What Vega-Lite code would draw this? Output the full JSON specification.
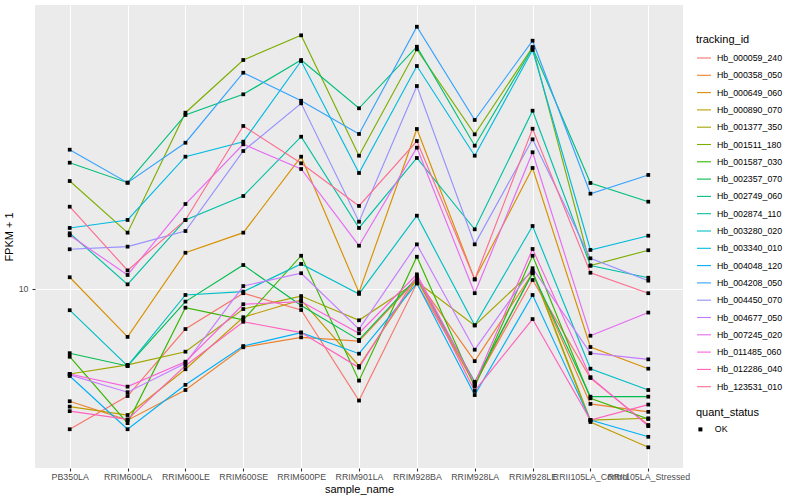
{
  "$schema": "https://vega.github.io/schema/vega-lite/v6.json",
  "width": 648,
  "height": 463,
  "padding": {"left": 3, "top": 5, "right": 5, "bottom": 5},
  "background": "white",
  "config": {
    "view": {"fill": "#EBEBEB", "stroke": null},
    "font": "Liberation Sans",
    "axis": {
      "domain": false, "grid": true, "gridColor": "#FFFFFF", "gridWidth": 1.1,
      "tickColor": "#333333", "tickSize": 3, "tickWidth": 1.1,
      "labelColor": "#4D4D4D", "labelFontSize": 8.8, "labelFont": "Liberation Sans",
      "titleFontSize": 11, "titleFontWeight": "normal", "titleColor": "#000000", "titleFont": "Liberation Sans",
      "labelPadding": 2, "titlePadding": 3
    },
    "legend": {
      "padding": 0, "titleFontSize": 11, "titleFontWeight": "normal", "titleColor": "#000000",
      "labelFontSize": 8.8, "labelColor": "#000000", "titleFont": "Liberation Sans", "labelFont": "Liberation Sans"
    }
  },
  "data": {"values": [
    {"tracking_id":"Hb_000059_240","sample_name":"PB350LA","fpkm":4.46,"quant_status":"OK"},
    {"tracking_id":"Hb_000059_240","sample_name":"RRIM600LA","fpkm":5.40,"quant_status":"OK"},
    {"tracking_id":"Hb_000059_240","sample_name":"RRIM600LE","fpkm":7.94,"quant_status":"OK"},
    {"tracking_id":"Hb_000059_240","sample_name":"RRIM600SE","fpkm":9.76,"quant_status":"OK"},
    {"tracking_id":"Hb_000059_240","sample_name":"RRIM600PE","fpkm":8.86,"quant_status":"OK"},
    {"tracking_id":"Hb_000059_240","sample_name":"RRIM901LA","fpkm":5.26,"quant_status":"OK"},
    {"tracking_id":"Hb_000059_240","sample_name":"RRIM928BA","fpkm":10.33,"quant_status":"OK"},
    {"tracking_id":"Hb_000059_240","sample_name":"RRIM928LA","fpkm":5.79,"quant_status":"OK"},
    {"tracking_id":"Hb_000059_240","sample_name":"RRIM928LE","fpkm":10.53,"quant_status":"OK"},
    {"tracking_id":"Hb_000059_240","sample_name":"RRII105LA_Control","fpkm":5.99,"quant_status":"OK"},
    {"tracking_id":"Hb_000059_240","sample_name":"RRII105LA_Stressed","fpkm":4.57,"quant_status":"OK"},

    {"tracking_id":"Hb_000358_050","sample_name":"PB350LA","fpkm":5.24,"quant_status":"OK"},
    {"tracking_id":"Hb_000358_050","sample_name":"RRIM600LA","fpkm":4.70,"quant_status":"OK"},
    {"tracking_id":"Hb_000358_050","sample_name":"RRIM600LE","fpkm":5.59,"quant_status":"OK"},
    {"tracking_id":"Hb_000358_050","sample_name":"RRIM600SE","fpkm":7.15,"quant_status":"OK"},
    {"tracking_id":"Hb_000358_050","sample_name":"RRIM600PE","fpkm":7.57,"quant_status":"OK"},
    {"tracking_id":"Hb_000358_050","sample_name":"RRIM901LA","fpkm":7.41,"quant_status":"OK"},
    {"tracking_id":"Hb_000358_050","sample_name":"RRIM928BA","fpkm":10.57,"quant_status":"OK"},
    {"tracking_id":"Hb_000358_050","sample_name":"RRIM928LA","fpkm":6.60,"quant_status":"OK"},
    {"tracking_id":"Hb_000358_050","sample_name":"RRIM928LE","fpkm":10.95,"quant_status":"OK"},
    {"tracking_id":"Hb_000358_050","sample_name":"RRII105LA_Control","fpkm":5.16,"quant_status":"OK"},
    {"tracking_id":"Hb_000358_050","sample_name":"RRII105LA_Stressed","fpkm":4.93,"quant_status":"OK"},

    {"tracking_id":"Hb_000649_060","sample_name":"PB350LA","fpkm":10.70,"quant_status":"OK"},
    {"tracking_id":"Hb_000649_060","sample_name":"RRIM600LA","fpkm":7.59,"quant_status":"OK"},
    {"tracking_id":"Hb_000649_060","sample_name":"RRIM600LE","fpkm":12.32,"quant_status":"OK"},
    {"tracking_id":"Hb_000649_060","sample_name":"RRIM600SE","fpkm":13.83,"quant_status":"OK"},
    {"tracking_id":"Hb_000649_060","sample_name":"RRIM600PE","fpkm":21.42,"quant_status":"OK"},
    {"tracking_id":"Hb_000649_060","sample_name":"RRIM901LA","fpkm":9.80,"quant_status":"OK"},
    {"tracking_id":"Hb_000649_060","sample_name":"RRIM928BA","fpkm":25.12,"quant_status":"OK"},
    {"tracking_id":"Hb_000649_060","sample_name":"RRIM928LA","fpkm":10.57,"quant_status":"OK"},
    {"tracking_id":"Hb_000649_060","sample_name":"RRIM928LE","fpkm":20.07,"quant_status":"OK"},
    {"tracking_id":"Hb_000649_060","sample_name":"RRII105LA_Control","fpkm":7.16,"quant_status":"OK"},
    {"tracking_id":"Hb_000649_060","sample_name":"RRII105LA_Stressed","fpkm":6.32,"quant_status":"OK"},

    {"tracking_id":"Hb_000890_070","sample_name":"PB350LA","fpkm":5.08,"quant_status":"OK"},
    {"tracking_id":"Hb_000890_070","sample_name":"RRIM600LA","fpkm":4.84,"quant_status":"OK"},
    {"tracking_id":"Hb_000890_070","sample_name":"RRIM600LE","fpkm":6.30,"quant_status":"OK"},
    {"tracking_id":"Hb_000890_070","sample_name":"RRIM600SE","fpkm":8.50,"quant_status":"OK"},
    {"tracking_id":"Hb_000890_070","sample_name":"RRIM600PE","fpkm":9.39,"quant_status":"OK"},
    {"tracking_id":"Hb_000890_070","sample_name":"RRIM901LA","fpkm":6.42,"quant_status":"OK"},
    {"tracking_id":"Hb_000890_070","sample_name":"RRIM928BA","fpkm":10.57,"quant_status":"OK"},
    {"tracking_id":"Hb_000890_070","sample_name":"RRIM928LA","fpkm":5.75,"quant_status":"OK"},
    {"tracking_id":"Hb_000890_070","sample_name":"RRIM928LE","fpkm":11.03,"quant_status":"OK"},
    {"tracking_id":"Hb_000890_070","sample_name":"RRII105LA_Control","fpkm":4.65,"quant_status":"OK"},
    {"tracking_id":"Hb_000890_070","sample_name":"RRII105LA_Stressed","fpkm":4.02,"quant_status":"OK"},

    {"tracking_id":"Hb_001377_350","sample_name":"PB350LA","fpkm":6.13,"quant_status":"OK"},
    {"tracking_id":"Hb_001377_350","sample_name":"RRIM600LA","fpkm":6.46,"quant_status":"OK"},
    {"tracking_id":"Hb_001377_350","sample_name":"RRIM600LE","fpkm":6.97,"quant_status":"OK"},
    {"tracking_id":"Hb_001377_350","sample_name":"RRIM600SE","fpkm":8.91,"quant_status":"OK"},
    {"tracking_id":"Hb_001377_350","sample_name":"RRIM600PE","fpkm":9.60,"quant_status":"OK"},
    {"tracking_id":"Hb_001377_350","sample_name":"RRIM901LA","fpkm":8.35,"quant_status":"OK"},
    {"tracking_id":"Hb_001377_350","sample_name":"RRIM928BA","fpkm":10.43,"quant_status":"OK"},
    {"tracking_id":"Hb_001377_350","sample_name":"RRIM928LA","fpkm":8.11,"quant_status":"OK"},
    {"tracking_id":"Hb_001377_350","sample_name":"RRIM928LE","fpkm":11.09,"quant_status":"OK"},
    {"tracking_id":"Hb_001377_350","sample_name":"RRII105LA_Control","fpkm":4.70,"quant_status":"OK"},
    {"tracking_id":"Hb_001377_350","sample_name":"RRII105LA_Stressed","fpkm":4.75,"quant_status":"OK"},

    {"tracking_id":"Hb_001511_180","sample_name":"PB350LA","fpkm":18.62,"quant_status":"OK"},
    {"tracking_id":"Hb_001511_180","sample_name":"RRIM600LA","fpkm":13.83,"quant_status":"OK"},
    {"tracking_id":"Hb_001511_180","sample_name":"RRIM600LE","fpkm":27.59,"quant_status":"OK"},
    {"tracking_id":"Hb_001511_180","sample_name":"RRIM600SE","fpkm":37.37,"quant_status":"OK"},
    {"tracking_id":"Hb_001511_180","sample_name":"RRIM600PE","fpkm":43.08,"quant_status":"OK"},
    {"tracking_id":"Hb_001511_180","sample_name":"RRIM901LA","fpkm":21.54,"quant_status":"OK"},
    {"tracking_id":"Hb_001511_180","sample_name":"RRIM928BA","fpkm":39.74,"quant_status":"OK"},
    {"tracking_id":"Hb_001511_180","sample_name":"RRIM928LA","fpkm":24.36,"quant_status":"OK"},
    {"tracking_id":"Hb_001511_180","sample_name":"RRIM928LE","fpkm":40.27,"quant_status":"OK"},
    {"tracking_id":"Hb_001511_180","sample_name":"RRII105LA_Control","fpkm":11.44,"quant_status":"OK"},
    {"tracking_id":"Hb_001511_180","sample_name":"RRII105LA_Stressed","fpkm":12.50,"quant_status":"OK"},

    {"tracking_id":"Hb_001587_030","sample_name":"PB350LA","fpkm":6.77,"quant_status":"OK"},
    {"tracking_id":"Hb_001587_030","sample_name":"RRIM600LA","fpkm":4.62,"quant_status":"OK"},
    {"tracking_id":"Hb_001587_030","sample_name":"RRIM600LE","fpkm":8.98,"quant_status":"OK"},
    {"tracking_id":"Hb_001587_030","sample_name":"RRIM600SE","fpkm":8.37,"quant_status":"OK"},
    {"tracking_id":"Hb_001587_030","sample_name":"RRIM600PE","fpkm":12.11,"quant_status":"OK"},
    {"tracking_id":"Hb_001587_030","sample_name":"RRIM901LA","fpkm":5.90,"quant_status":"OK"},
    {"tracking_id":"Hb_001587_030","sample_name":"RRIM928BA","fpkm":12.04,"quant_status":"OK"},
    {"tracking_id":"Hb_001587_030","sample_name":"RRIM928LA","fpkm":5.70,"quant_status":"OK"},
    {"tracking_id":"Hb_001587_030","sample_name":"RRIM928LE","fpkm":12.11,"quant_status":"OK"},
    {"tracking_id":"Hb_001587_030","sample_name":"RRII105LA_Control","fpkm":5.33,"quant_status":"OK"},
    {"tracking_id":"Hb_001587_030","sample_name":"RRII105LA_Stressed","fpkm":4.73,"quant_status":"OK"},

    {"tracking_id":"Hb_002357_070","sample_name":"PB350LA","fpkm":6.91,"quant_status":"OK"},
    {"tracking_id":"Hb_002357_070","sample_name":"RRIM600LA","fpkm":6.42,"quant_status":"OK"},
    {"tracking_id":"Hb_002357_070","sample_name":"RRIM600LE","fpkm":9.30,"quant_status":"OK"},
    {"tracking_id":"Hb_002357_070","sample_name":"RRIM600SE","fpkm":11.48,"quant_status":"OK"},
    {"tracking_id":"Hb_002357_070","sample_name":"RRIM600PE","fpkm":9.09,"quant_status":"OK"},
    {"tracking_id":"Hb_002357_070","sample_name":"RRIM901LA","fpkm":7.46,"quant_status":"OK"},
    {"tracking_id":"Hb_002357_070","sample_name":"RRIM928BA","fpkm":10.67,"quant_status":"OK"},
    {"tracking_id":"Hb_002357_070","sample_name":"RRIM928LA","fpkm":5.86,"quant_status":"OK"},
    {"tracking_id":"Hb_002357_070","sample_name":"RRIM928LE","fpkm":10.95,"quant_status":"OK"},
    {"tracking_id":"Hb_002357_070","sample_name":"RRII105LA_Control","fpkm":5.38,"quant_status":"OK"},
    {"tracking_id":"Hb_002357_070","sample_name":"RRII105LA_Stressed","fpkm":5.38,"quant_status":"OK"},

    {"tracking_id":"Hb_002749_060","sample_name":"PB350LA","fpkm":20.69,"quant_status":"OK"},
    {"tracking_id":"Hb_002749_060","sample_name":"RRIM600LA","fpkm":18.44,"quant_status":"OK"},
    {"tracking_id":"Hb_002749_060","sample_name":"RRIM600LE","fpkm":27.23,"quant_status":"OK"},
    {"tracking_id":"Hb_002749_060","sample_name":"RRIM600SE","fpkm":30.67,"quant_status":"OK"},
    {"tracking_id":"Hb_002749_060","sample_name":"RRIM600PE","fpkm":37.37,"quant_status":"OK"},
    {"tracking_id":"Hb_002749_060","sample_name":"RRIM901LA","fpkm":28.30,"quant_status":"OK"},
    {"tracking_id":"Hb_002749_060","sample_name":"RRIM928BA","fpkm":40.34,"quant_status":"OK"},
    {"tracking_id":"Hb_002749_060","sample_name":"RRIM928LA","fpkm":22.82,"quant_status":"OK"},
    {"tracking_id":"Hb_002749_060","sample_name":"RRIM928LE","fpkm":40.04,"quant_status":"OK"},
    {"tracking_id":"Hb_002749_060","sample_name":"RRII105LA_Control","fpkm":18.41,"quant_status":"OK"},
    {"tracking_id":"Hb_002749_060","sample_name":"RRII105LA_Stressed","fpkm":16.53,"quant_status":"OK"},

    {"tracking_id":"Hb_002874_110","sample_name":"PB350LA","fpkm":13.78,"quant_status":"OK"},
    {"tracking_id":"Hb_002874_110","sample_name":"RRIM600LA","fpkm":10.27,"quant_status":"OK"},
    {"tracking_id":"Hb_002874_110","sample_name":"RRIM600LE","fpkm":14.88,"quant_status":"OK"},
    {"tracking_id":"Hb_002874_110","sample_name":"RRIM600SE","fpkm":17.08,"quant_status":"OK"},
    {"tracking_id":"Hb_002874_110","sample_name":"RRIM600PE","fpkm":24.03,"quant_status":"OK"},
    {"tracking_id":"Hb_002874_110","sample_name":"RRIM901LA","fpkm":14.21,"quant_status":"OK"},
    {"tracking_id":"Hb_002874_110","sample_name":"RRIM928BA","fpkm":21.26,"quant_status":"OK"},
    {"tracking_id":"Hb_002874_110","sample_name":"RRIM928LA","fpkm":14.10,"quant_status":"OK"},
    {"tracking_id":"Hb_002874_110","sample_name":"RRIM928LE","fpkm":27.91,"quant_status":"OK"},
    {"tracking_id":"Hb_002874_110","sample_name":"RRII105LA_Control","fpkm":11.44,"quant_status":"OK"},
    {"tracking_id":"Hb_002874_110","sample_name":"RRII105LA_Stressed","fpkm":10.67,"quant_status":"OK"},

    {"tracking_id":"Hb_003280_020","sample_name":"PB350LA","fpkm":8.85,"quant_status":"OK"},
    {"tracking_id":"Hb_003280_020","sample_name":"RRIM600LA","fpkm":6.42,"quant_status":"OK"},
    {"tracking_id":"Hb_003280_020","sample_name":"RRIM600LE","fpkm":9.66,"quant_status":"OK"},
    {"tracking_id":"Hb_003280_020","sample_name":"RRIM600SE","fpkm":9.85,"quant_status":"OK"},
    {"tracking_id":"Hb_003280_020","sample_name":"RRIM600PE","fpkm":11.55,"quant_status":"OK"},
    {"tracking_id":"Hb_003280_020","sample_name":"RRIM901LA","fpkm":9.72,"quant_status":"OK"},
    {"tracking_id":"Hb_003280_020","sample_name":"RRIM928BA","fpkm":15.25,"quant_status":"OK"},
    {"tracking_id":"Hb_003280_020","sample_name":"RRIM928LA","fpkm":8.11,"quant_status":"OK"},
    {"tracking_id":"Hb_003280_020","sample_name":"RRIM928LE","fpkm":14.37,"quant_status":"OK"},
    {"tracking_id":"Hb_003280_020","sample_name":"RRII105LA_Control","fpkm":6.32,"quant_status":"OK"},
    {"tracking_id":"Hb_003280_020","sample_name":"RRII105LA_Stressed","fpkm":5.59,"quant_status":"OK"},

    {"tracking_id":"Hb_003340_010","sample_name":"PB350LA","fpkm":14.21,"quant_status":"OK"},
    {"tracking_id":"Hb_003340_010","sample_name":"RRIM600LA","fpkm":14.88,"quant_status":"OK"},
    {"tracking_id":"Hb_003340_010","sample_name":"RRIM600LE","fpkm":21.42,"quant_status":"OK"},
    {"tracking_id":"Hb_003340_010","sample_name":"RRIM600SE","fpkm":23.35,"quant_status":"OK"},
    {"tracking_id":"Hb_003340_010","sample_name":"RRIM600PE","fpkm":37.15,"quant_status":"OK"},
    {"tracking_id":"Hb_003340_010","sample_name":"RRIM901LA","fpkm":19.50,"quant_status":"OK"},
    {"tracking_id":"Hb_003340_010","sample_name":"RRIM928BA","fpkm":36.10,"quant_status":"OK"},
    {"tracking_id":"Hb_003340_010","sample_name":"RRIM928LA","fpkm":21.54,"quant_status":"OK"},
    {"tracking_id":"Hb_003340_010","sample_name":"RRIM928LE","fpkm":39.58,"quant_status":"OK"},
    {"tracking_id":"Hb_003340_010","sample_name":"RRII105LA_Control","fpkm":12.52,"quant_status":"OK"},
    {"tracking_id":"Hb_003340_010","sample_name":"RRII105LA_Stressed","fpkm":13.59,"quant_status":"OK"},

    {"tracking_id":"Hb_004048_120","sample_name":"PB350LA","fpkm":6.06,"quant_status":"OK"},
    {"tracking_id":"Hb_004048_120","sample_name":"RRIM600LA","fpkm":4.46,"quant_status":"OK"},
    {"tracking_id":"Hb_004048_120","sample_name":"RRIM600LE","fpkm":5.76,"quant_status":"OK"},
    {"tracking_id":"Hb_004048_120","sample_name":"RRIM600SE","fpkm":7.20,"quant_status":"OK"},
    {"tracking_id":"Hb_004048_120","sample_name":"RRIM600PE","fpkm":7.78,"quant_status":"OK"},
    {"tracking_id":"Hb_004048_120","sample_name":"RRIM901LA","fpkm":6.89,"quant_status":"OK"},
    {"tracking_id":"Hb_004048_120","sample_name":"RRIM928BA","fpkm":10.33,"quant_status":"OK"},
    {"tracking_id":"Hb_004048_120","sample_name":"RRIM928LA","fpkm":5.43,"quant_status":"OK"},
    {"tracking_id":"Hb_004048_120","sample_name":"RRIM928LE","fpkm":9.66,"quant_status":"OK"},
    {"tracking_id":"Hb_004048_120","sample_name":"RRII105LA_Control","fpkm":4.70,"quant_status":"OK"},
    {"tracking_id":"Hb_004048_120","sample_name":"RRII105LA_Stressed","fpkm":4.27,"quant_status":"OK"},

    {"tracking_id":"Hb_004208_050","sample_name":"PB350LA","fpkm":22.30,"quant_status":"OK"},
    {"tracking_id":"Hb_004208_050","sample_name":"RRIM600LA","fpkm":18.44,"quant_status":"OK"},
    {"tracking_id":"Hb_004208_050","sample_name":"RRIM600LE","fpkm":23.21,"quant_status":"OK"},
    {"tracking_id":"Hb_004208_050","sample_name":"RRIM600SE","fpkm":34.73,"quant_status":"OK"},
    {"tracking_id":"Hb_004208_050","sample_name":"RRIM600PE","fpkm":29.56,"quant_status":"OK"},
    {"tracking_id":"Hb_004208_050","sample_name":"RRIM901LA","fpkm":24.41,"quant_status":"OK"},
    {"tracking_id":"Hb_004208_050","sample_name":"RRIM928BA","fpkm":45.26,"quant_status":"OK"},
    {"tracking_id":"Hb_004208_050","sample_name":"RRIM928LA","fpkm":26.46,"quant_status":"OK"},
    {"tracking_id":"Hb_004208_050","sample_name":"RRIM928LE","fpkm":41.76,"quant_status":"OK"},
    {"tracking_id":"Hb_004208_050","sample_name":"RRII105LA_Control","fpkm":17.31,"quant_status":"OK"},
    {"tracking_id":"Hb_004208_050","sample_name":"RRII105LA_Stressed","fpkm":19.28,"quant_status":"OK"},

    {"tracking_id":"Hb_004450_070","sample_name":"PB350LA","fpkm":12.57,"quant_status":"OK"},
    {"tracking_id":"Hb_004450_070","sample_name":"RRIM600LA","fpkm":12.76,"quant_status":"OK"},
    {"tracking_id":"Hb_004450_070","sample_name":"RRIM600LE","fpkm":13.96,"quant_status":"OK"},
    {"tracking_id":"Hb_004450_070","sample_name":"RRIM600SE","fpkm":22.13,"quant_status":"OK"},
    {"tracking_id":"Hb_004450_070","sample_name":"RRIM600PE","fpkm":29.12,"quant_status":"OK"},
    {"tracking_id":"Hb_004450_070","sample_name":"RRIM901LA","fpkm":14.73,"quant_status":"OK"},
    {"tracking_id":"Hb_004450_070","sample_name":"RRIM928BA","fpkm":32.17,"quant_status":"OK"},
    {"tracking_id":"Hb_004450_070","sample_name":"RRIM928LA","fpkm":12.93,"quant_status":"OK"},
    {"tracking_id":"Hb_004450_070","sample_name":"RRIM928LE","fpkm":23.67,"quant_status":"OK"},
    {"tracking_id":"Hb_004450_070","sample_name":"RRII105LA_Control","fpkm":11.93,"quant_status":"OK"},
    {"tracking_id":"Hb_004450_070","sample_name":"RRII105LA_Stressed","fpkm":10.49,"quant_status":"OK"},

    {"tracking_id":"Hb_004677_050","sample_name":"PB350LA","fpkm":6.10,"quant_status":"OK"},
    {"tracking_id":"Hb_004677_050","sample_name":"RRIM600LA","fpkm":5.52,"quant_status":"OK"},
    {"tracking_id":"Hb_004677_050","sample_name":"RRIM600LE","fpkm":6.52,"quant_status":"OK"},
    {"tracking_id":"Hb_004677_050","sample_name":"RRIM600SE","fpkm":10.17,"quant_status":"OK"},
    {"tracking_id":"Hb_004677_050","sample_name":"RRIM600PE","fpkm":10.95,"quant_status":"OK"},
    {"tracking_id":"Hb_004677_050","sample_name":"RRIM901LA","fpkm":7.94,"quant_status":"OK"},
    {"tracking_id":"Hb_004677_050","sample_name":"RRIM928BA","fpkm":12.93,"quant_status":"OK"},
    {"tracking_id":"Hb_004677_050","sample_name":"RRIM928LA","fpkm":7.05,"quant_status":"OK"},
    {"tracking_id":"Hb_004677_050","sample_name":"RRIM928LE","fpkm":11.27,"quant_status":"OK"},
    {"tracking_id":"Hb_004677_050","sample_name":"RRII105LA_Control","fpkm":6.91,"quant_status":"OK"},
    {"tracking_id":"Hb_004677_050","sample_name":"RRII105LA_Stressed","fpkm":6.67,"quant_status":"OK"},

    {"tracking_id":"Hb_007245_020","sample_name":"PB350LA","fpkm":13.62,"quant_status":"OK"},
    {"tracking_id":"Hb_007245_020","sample_name":"RRIM600LA","fpkm":10.84,"quant_status":"OK"},
    {"tracking_id":"Hb_007245_020","sample_name":"RRIM600LE","fpkm":16.31,"quant_status":"OK"},
    {"tracking_id":"Hb_007245_020","sample_name":"RRIM600SE","fpkm":23.00,"quant_status":"OK"},
    {"tracking_id":"Hb_007245_020","sample_name":"RRIM600PE","fpkm":19.95,"quant_status":"OK"},
    {"tracking_id":"Hb_007245_020","sample_name":"RRIM901LA","fpkm":12.83,"quant_status":"OK"},
    {"tracking_id":"Hb_007245_020","sample_name":"RRIM928BA","fpkm":22.56,"quant_status":"OK"},
    {"tracking_id":"Hb_007245_020","sample_name":"RRIM928LA","fpkm":9.76,"quant_status":"OK"},
    {"tracking_id":"Hb_007245_020","sample_name":"RRIM928LE","fpkm":21.97,"quant_status":"OK"},
    {"tracking_id":"Hb_007245_020","sample_name":"RRII105LA_Control","fpkm":7.64,"quant_status":"OK"},
    {"tracking_id":"Hb_007245_020","sample_name":"RRII105LA_Stressed","fpkm":8.73,"quant_status":"OK"},

    {"tracking_id":"Hb_011485_060","sample_name":"PB350LA","fpkm":6.13,"quant_status":"OK"},
    {"tracking_id":"Hb_011485_060","sample_name":"RRIM600LA","fpkm":5.70,"quant_status":"OK"},
    {"tracking_id":"Hb_011485_060","sample_name":"RRIM600LE","fpkm":6.58,"quant_status":"OK"},
    {"tracking_id":"Hb_011485_060","sample_name":"RRIM600SE","fpkm":9.16,"quant_status":"OK"},
    {"tracking_id":"Hb_011485_060","sample_name":"RRIM600PE","fpkm":9.30,"quant_status":"OK"},
    {"tracking_id":"Hb_011485_060","sample_name":"RRIM901LA","fpkm":7.75,"quant_status":"OK"},
    {"tracking_id":"Hb_011485_060","sample_name":"RRIM928BA","fpkm":10.88,"quant_status":"OK"},
    {"tracking_id":"Hb_011485_060","sample_name":"RRIM928LA","fpkm":5.81,"quant_status":"OK"},
    {"tracking_id":"Hb_011485_060","sample_name":"RRIM928LE","fpkm":12.59,"quant_status":"OK"},
    {"tracking_id":"Hb_011485_060","sample_name":"RRII105LA_Control","fpkm":6.02,"quant_status":"OK"},
    {"tracking_id":"Hb_011485_060","sample_name":"RRII105LA_Stressed","fpkm":4.54,"quant_status":"OK"},

    {"tracking_id":"Hb_012286_040","sample_name":"PB350LA","fpkm":4.95,"quant_status":"OK"},
    {"tracking_id":"Hb_012286_040","sample_name":"RRIM600LA","fpkm":4.72,"quant_status":"OK"},
    {"tracking_id":"Hb_012286_040","sample_name":"RRIM600LE","fpkm":6.43,"quant_status":"OK"},
    {"tracking_id":"Hb_012286_040","sample_name":"RRIM600SE","fpkm":8.28,"quant_status":"OK"},
    {"tracking_id":"Hb_012286_040","sample_name":"RRIM600PE","fpkm":7.78,"quant_status":"OK"},
    {"tracking_id":"Hb_012286_040","sample_name":"RRIM901LA","fpkm":6.36,"quant_status":"OK"},
    {"tracking_id":"Hb_012286_040","sample_name":"RRIM928BA","fpkm":10.78,"quant_status":"OK"},
    {"tracking_id":"Hb_012286_040","sample_name":"RRIM928LA","fpkm":5.56,"quant_status":"OK"},
    {"tracking_id":"Hb_012286_040","sample_name":"RRIM928LE","fpkm":8.41,"quant_status":"OK"},
    {"tracking_id":"Hb_012286_040","sample_name":"RRII105LA_Control","fpkm":4.70,"quant_status":"OK"},
    {"tracking_id":"Hb_012286_040","sample_name":"RRII105LA_Stressed","fpkm":5.14,"quant_status":"OK"},

    {"tracking_id":"Hb_123531_010","sample_name":"PB350LA","fpkm":16.06,"quant_status":"OK"},
    {"tracking_id":"Hb_123531_010","sample_name":"RRIM600LA","fpkm":11.13,"quant_status":"OK"},
    {"tracking_id":"Hb_123531_010","sample_name":"RRIM600LE","fpkm":14.88,"quant_status":"OK"},
    {"tracking_id":"Hb_123531_010","sample_name":"RRIM600SE","fpkm":25.56,"quant_status":"OK"},
    {"tracking_id":"Hb_123531_010","sample_name":"RRIM600PE","fpkm":20.62,"quant_status":"OK"},
    {"tracking_id":"Hb_123531_010","sample_name":"RRIM901LA","fpkm":16.13,"quant_status":"OK"},
    {"tracking_id":"Hb_123531_010","sample_name":"RRIM928BA","fpkm":23.44,"quant_status":"OK"},
    {"tracking_id":"Hb_123531_010","sample_name":"RRIM928LA","fpkm":10.57,"quant_status":"OK"},
    {"tracking_id":"Hb_123531_010","sample_name":"RRIM928LE","fpkm":25.16,"quant_status":"OK"},
    {"tracking_id":"Hb_123531_010","sample_name":"RRII105LA_Control","fpkm":10.98,"quant_status":"OK"},
    {"tracking_id":"Hb_123531_010","sample_name":"RRII105LA_Stressed","fpkm":9.76,"quant_status":"OK"}
  ]},
  "encoding": {
    "x": {
      "field": "sample_name", "type": "nominal",
      "sort": ["PB350LA","RRIM600LA","RRIM600LE","RRIM600SE","RRIM600PE","RRIM901LA","RRIM928BA","RRIM928LA","RRIM928LE","RRII105LA_Control","RRII105LA_Stressed"],
      "scale": {"type": "point", "padding": 0.6},
      "axis": {"title": "sample_name", "labelAngle": 0, "labelOverlap": false, "labelBound": false, "labelFlush": false, "labelPadding": 1.5, "titlePadding": 2.5}
    },
    "y": {
      "field": "fpkm", "type": "quantitative",
      "scale": {"type": "log", "domain": [3.568, 51.29], "nice": false, "zero": false},
      "axis": {"title": "FPKM + 1", "values": [10], "format": "d", "titlePadding": 4, "labelPadding": 4}
    }
  },
  "layer": [
    {
      "mark": {"type": "line", "strokeWidth": 1.15},
      "encoding": {
        "color": {
          "field": "tracking_id", "type": "nominal",
          "scale": {
            "domain": ["Hb_000059_240","Hb_000358_050","Hb_000649_060","Hb_000890_070","Hb_001377_350","Hb_001511_180","Hb_001587_030","Hb_002357_070","Hb_002749_060","Hb_002874_110","Hb_003280_020","Hb_003340_010","Hb_004048_120","Hb_004208_050","Hb_004450_070","Hb_004677_050","Hb_007245_020","Hb_011485_060","Hb_012286_040","Hb_123531_010"],
            "range": ["#F8766D","#EA8331","#D89000","#C09B00","#A3A500","#7CAE00","#39B600","#00BB4E","#00BF7D","#00C1A3","#00BFC4","#00BAE0","#00B0F6","#35A2FF","#9590FF","#C77CFF","#E76BF3","#FA62DB","#FF62BC","#FF6C91"]
          },
          "legend": {
            "title": "tracking_id", "orient": "none", "legendX": 661, "legendY": 29,
            "symbolType": "stroke", "symbolSize": 196, "symbolStrokeWidth": 1.1,
            "rowPadding": 4.3, "labelOffset": 5, "titlePadding": 5
          }
        }
      }
    },
    {
      "mark": {"type": "point", "filled": true, "color": "#000000", "opacity": 1, "size": 14},
      "encoding": {
        "shape": {
          "field": "quant_status", "type": "nominal",
          "scale": {"range": ["square"]},
          "legend": {
            "title": "quant_status", "orient": "none", "legendX": 661, "legendY": 402,
            "symbolSize": 16, "symbolFillColor": "#000000", "symbolStrokeColor": "#000000",
            "labelOffset": 10, "titlePadding": 7
          }
        }
      }
    }
  ]
}
